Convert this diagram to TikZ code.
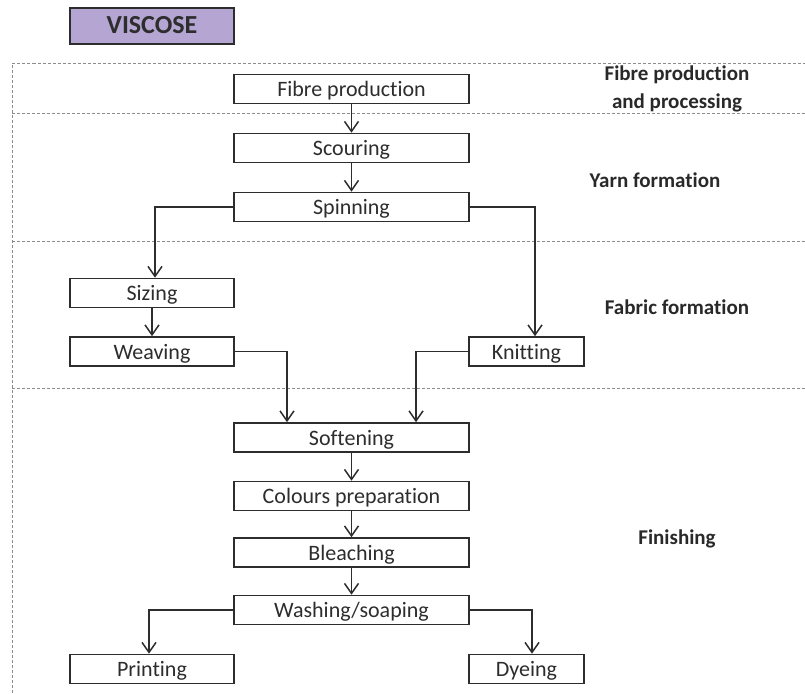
\documentclass[tikz,border=0pt]{standalone}
\usepackage{fontspec}
\setmainfont{Carlito}[RawFeature=-liga]
\usetikzlibrary{arrows.meta}
\definecolor{lav}{RGB}{180,165,210}
\definecolor{ink}{RGB}{45,45,45}
\definecolor{dashgray}{RGB}{140,140,140}
\tikzset{
  box/.style={draw=ink, line width=1.6pt, fill=white, inner sep=0pt,
    minimum height=29pt, text=ink, font=\fontsize{22}{24}\selectfont,
    text height=17pt, text depth=2pt},
  wbox/.style={box, minimum width=235pt},
  sbox/.style={box, minimum width=164pt},
  kbox/.style={box, minimum width=115pt},
  arr/.style={draw=ink, line width=1.6pt, -{Straight Barb[length=10pt,width=14pt,line width=1.5pt]}},
  sect/.style={draw=dashgray, line width=0.9pt, dash pattern=on 3pt off 2pt},
  lab/.style={text=ink!90!black, font=\fontsize{21}{28}\selectfont\bfseries, align=center},
}
\begin{document}
\begin{tikzpicture}[x=1pt,y=-1pt]
\useasboundingbox (0,0) rectangle (805,693);
% section frame
\coordinate (tl) at (12,63.5);
\coordinate (bl) at (12,693);
\coordinate (r1) at (805,63.5);
\coordinate (l2) at (12,113.5);
\coordinate (r2) at (805,113.5);
\coordinate (l3) at (12,241.5);
\coordinate (r3) at (805,241.5);
\coordinate (l4) at (12,388);
\coordinate (r4) at (805,388);
\draw[sect] (bl) -- (tl) -- (r1);
\draw[sect] (l2) -- (r2);
\draw[sect] (l3) -- (r3);
\draw[sect] (l4) -- (r4);
% title
\node[draw=ink, line width=1.6pt, fill=lav, minimum width=164pt, minimum height=36pt,
  inner sep=0pt, text=ink, font=\fontsize{26}{28}\selectfont\bfseries,
  text height=19pt, text depth=3pt] (title) at (152,26) {VISCOSE};
% boxes
\node[wbox] (fibre) at (351.5,89) {Fibre production};
\node[wbox] (scour) at (351.5,148) {Scouring};
\node[wbox] (spin) at (351.5,207) {Spinning};
\node[sbox] (sizing) at (152,293) {Sizing};
\node[sbox] (weave) at (152,351.5) {Weaving};
\node[kbox] (knit) at (526.5,351.5) {Knitting};
\node[wbox] (soft) at (351.5,437.5) {Softening};
\node[wbox] (colour) at (351.5,496) {Colours preparation};
\node[wbox] (bleach) at (351.5,552.5) {Bleaching};
\node[wbox] (wash) at (351.5,610) {Washing/soaping};
\node[sbox] (print) at (152,669) {Printing};
\node[kbox] (dye) at (526.5,669) {Dyeing};
% labels
\node[lab] (l1) at (677,89) {Fibre production\\and processing};
\node[lab] (l2t) at (655,180) {Yarn formation};
\node[lab] (l3t) at (677,307) {Fabric formation};
\node[lab] (l4t) at (677,539) {Finishing};
% connectors
\draw[arr] (fibre) -- (scour);
\draw[arr] (scour) -- (spin);
\draw[arr] (spin.west) -| ([xshift=3pt]sizing.north);
\draw[arr] (spin.east) -| ([xshift=8.5pt]knit.north);
\draw[arr] (sizing) -- (weave);
\draw[arr] (weave.east) -| ([xshift=-64.5pt]soft.north);
\draw[arr] (knit.west) -| ([xshift=64.5pt]soft.north);
\draw[arr] (soft) -- (colour);
\draw[arr] (colour) -- (bleach);
\draw[arr] (bleach) -- (wash);
\draw[arr] (wash.west) -| ([xshift=-3pt]print.north);
\draw[arr] (wash.east) -| ([xshift=5.5pt]dye.north);
\end{tikzpicture}
\end{document}
